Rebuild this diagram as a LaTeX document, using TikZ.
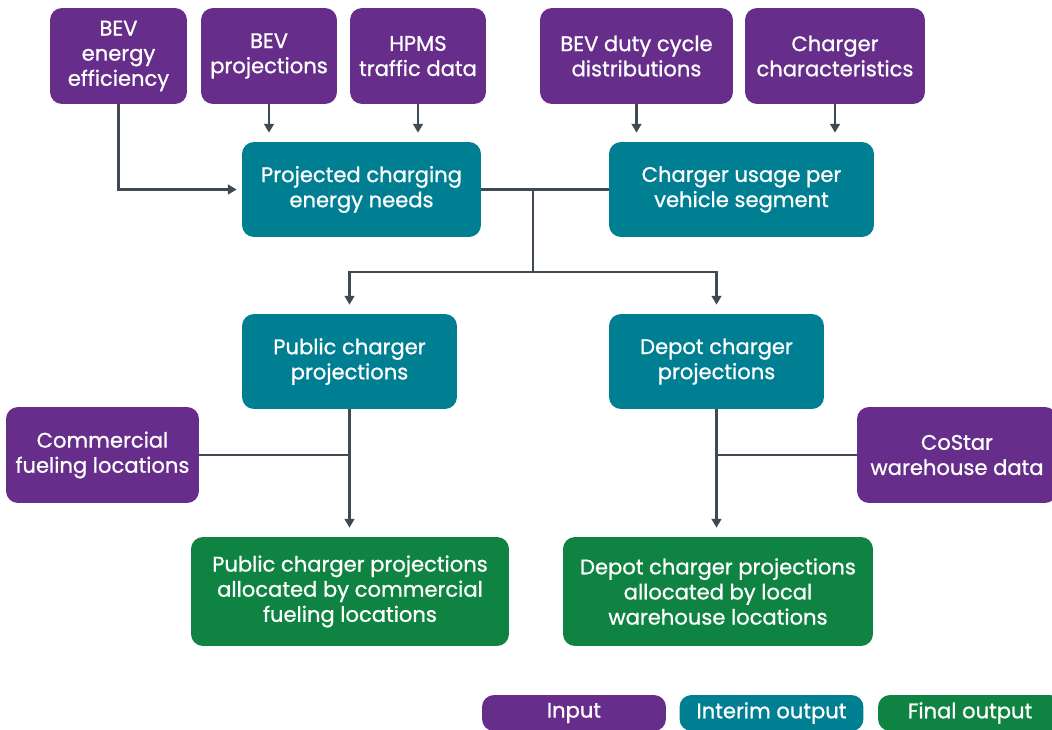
\documentclass[tikz,border=0pt]{standalone}
\usepackage{fontspec}
\setmainfont{Poppins}[FakeBold=0.9]
\usetikzlibrary{arrows.meta}
\definecolor{inpurple}{RGB}{102,45,138}
\definecolor{midteal}{RGB}{0,127,147}
\definecolor{endgreen}{RGB}{15,131,66}
\definecolor{linegray}{RGB}{63,74,84}
\tikzset{
  box/.style={rounded corners=0.24cm, text=white, align=center, inner sep=0pt,
    font=\fontsize{12}{14.3}\selectfont, minimum height=1.92cm},
  inbox/.style={box, fill=inpurple},
  midbox/.style={box, fill=midteal, minimum height=1.9cm},
  endbox/.style={box, fill=endgreen, minimum height=2.18cm},
  link/.style={draw=linegray, line width=1.4pt},
  flow/.style={link, -{Triangle[width=5.5pt,length=5pt]}, shorten >=0.18cm}
}
\begin{document}
\begin{tikzpicture}[x=0.02cm,y=-0.02cm]
        \useasboundingbox (0,0) rectangle (1052,730);
        \clip (0,0) rectangle (1052,730);

        \node[inbox, minimum width=2.74cm] (eff) at (118.5,56) {BEV\\energy\\efficiency};
        \node[inbox, minimum width=2.72cm] (bevproj) at (269,56) {BEV\\projections};
        \node[inbox, minimum width=2.72cm] (hpms) at (418,56) {HPMS\\traffic data};
        \node[inbox, minimum width=3.86cm] (duty) at (636.5,56) {BEV duty cycle\\distributions};
        \node[inbox, minimum width=3.6cm] (chchar) at (835,56) {Charger\\characteristics};

        \node[midbox, minimum width=4.78cm] (needs) at (361.5,189.5) {Projected charging\\energy needs};
        \node[midbox, minimum width=5.3cm] (usage) at (741.5,189.5) {Charger usage per\\vehicle segment};

        \node[midbox, minimum width=4.3cm] (pub) at (349.5,361.5) {Public charger\\projections};
        \node[midbox, minimum width=4.3cm] (depot) at (716.5,361.5) {Depot charger\\projections};

        \node[inbox, minimum width=3.86cm] (fuel) at (102.5,455) {Commercial\\fueling locations};
        \node[inbox, minimum width=4cm] (costar) at (957,455) {CoStar\\warehouse data};

        \node[endbox, minimum width=6.36cm] (pubfin) at (350,591.5) {Public charger projections\\allocated by commercial\\fueling locations};
        \node[endbox, minimum width=6.2cm] (depfin) at (718,591.5) {Depot charger projections\\allocated by local\\warehouse locations};

        \node[inbox, minimum width=3.68cm, minimum height=0.72cm] (keyin) at (574,713) {Input};
        \node[midbox, minimum width=3.68cm, minimum height=0.72cm] (keymid) at (771.5,713) {Interim output};
        \node[endbox, minimum width=3.68cm, minimum height=0.72cm] (keyend) at (970,713) {Final output};

        \draw[flow, shorten >=0.1cm] (eff.south) |- (needs.west);
        \draw[flow] (bevproj.south) -- (bevproj.south |- needs.north);
        \draw[flow] (hpms.south) -- (hpms.south |- needs.north);
        \draw[flow] (duty.south) -- (duty.south |- usage.north);
        \draw[flow] (chchar.south) -- (chchar.south |- usage.north);

        \coordinate (hub) at (533,189.5);
        \coordinate (split) at (533,272);
        \draw[link] (needs.east) -- (usage.west);
        \draw[link] (hub) -- (split);
        \draw[flow] (split) -| (pub.north);
        \draw[flow] (split) -| (depot.north);

        \draw[flow] (pub.south) -- (pub.south |- pubfin.north);
        \draw[link] (fuel.east) -- (fuel.east -| pub.south);
        \draw[flow] (depot.south) -- (depot.south |- depfin.north);
        \draw[link] (costar.west) -- (costar.west -| depot.south);
\end{tikzpicture}
\end{document}
